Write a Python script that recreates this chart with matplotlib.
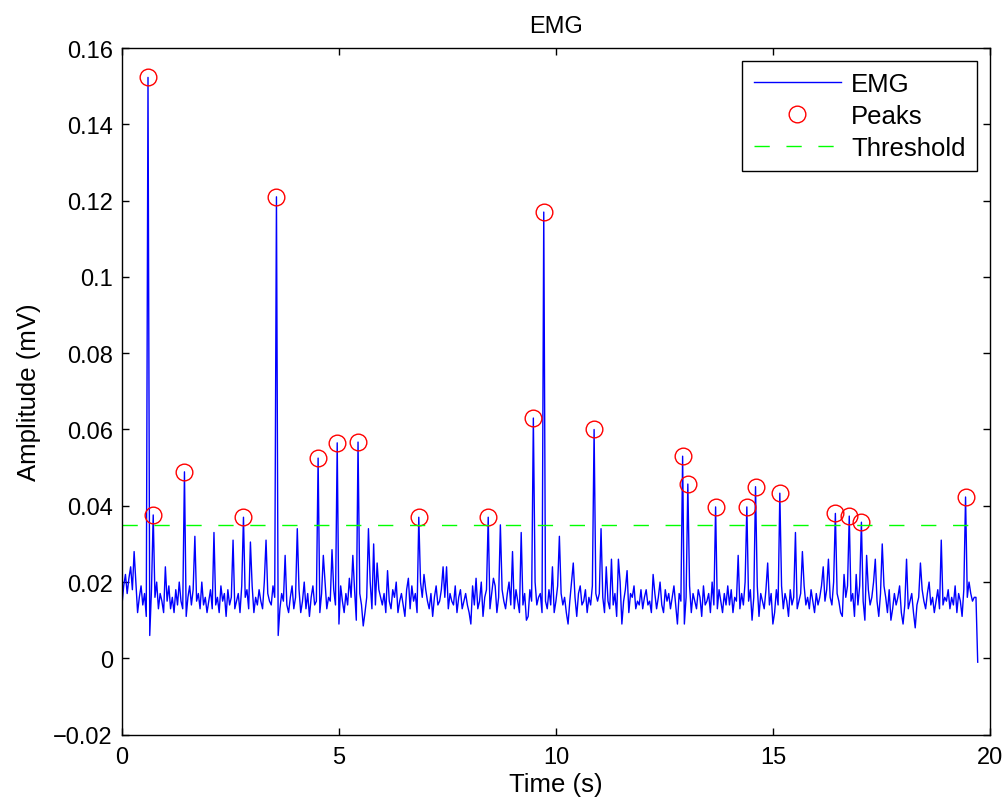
import matplotlib.pyplot as plt
import numpy as np
from matplotlib.ticker import FixedLocator, FixedFormatter

# ----- Matplotlib settings -----
plt.rcParams["font.family"] = ["Liberation Sans", "DejaVu Sans"]
plt.rcParams["font.size"] = 17

# ----- Data (amplitudes in 1e-3 mV) -----
DT = 0.04  # s

emg_base = [
    14, 19, 12, 17, 21, 13, 18, 15, 20, 12, 16, 19, 14, 17, 11, 15, 13, 18, 14, 16, 20, 13, 17, 15, 12,
    17, 15, 19, 13, 16, 12, 18, 14, 20, 15, 13, 17, 11, 16, 19, 14, 18, 12, 15, 17, 13, 20, 14, 16, 12,
    15, 18, 13, 21, 14, 16, 12, 19, 15, 17, 11, 18, 14, 16, 20, 13, 15, 17, 12, 19, 14, 16, 18, 13, 15,
    19, 12, 16, 14, 18, 15, 13, 20, 11, 17, 15, 14, 19, 16, 12, 18, 13, 17, 15, 21, 14, 12, 16, 19, 13,
    16, 14, 18, 12, 15, 20, 13, 17, 11, 16, 19, 14, 15, 18, 12, 17, 14, 20, 13, 16, 15, 11, 18, 14, 17,
    13, 19, 15, 12, 17, 14, 21, 16, 13, 18, 10, 15, 17, 14, 19, 12, 16, 15, 20, 13, 17, 14, 11, 18, 16,
    14, 17, 12, 19, 15, 13, 18, 16, 20, 12, 15, 17, 14, 11, 18, 16, 13, 19, 15, 17, 12, 14, 20, 16, 13,
    18, 15, 13, 17, 11, 16, 19, 14, 15, 18, 12, 16, 20, 13, 17, 15, 14, 19, 12, 16, 18, 13, 15, 17, 14,
    12, 16, 19, 14, 17, 13, 15, 20, 11, 16, 18, 14, 13, 17, 15, 19, 12, 16, 14, 18, 15, 13, 17, 20, 14,
    16, 13, 18, 15, 12, 19, 14, 17, 16, 11, 18, 15, 13, 20, 14, 16, 17, 12, 19, 15, 13, 18, 14, 16, 12,
    15, 19, 13, 17, 14, 16, 12, 18, 15, 20, 13, 16, 11, 17, 19, 14, 15, 18, 12, 16, 14, 19, 13, 17, 15,
    17, 14, 16, 12, 19, 15, 13, 18, 14, 17, 11, 16, 20, 13, 15, 18, 14, 12, 17, 16, 19, 13, 15, 14, 18,
    13, 16, 18, 14, 15, 12, 19, 17, 13, 16, 20, 14, 12, 18, 15, 17, 13, 16, 19, 14, 12, 17, 15, 18, 13,
    16, 14, 19, 12, 17, 15, 13, 18, 16, 11, 19, 14, 15, 17, 12, 20, 14, 16, 13, 18, 15, 12, 17, 14, 19,
    14, 18, 12, 16, 15, 19, 13, 17, 14, 20, 12, 15, 18, 13, 16, 14, 19, 11, 17, 15, 13, 18, 16, 14, 17,
    15, 12, 18, 14, 16, 19, 13, 17, 15, 11, 18, 14, 16, 20, 13, 15, 17, 12, 19, 14, 16, 13, 18, 15, 12,
    17, 14, 16, 19, 13, 15, 18, 12, 16, 14, 20, 13, 17, 15, 12, 18, 14, 16, 19, 13, 15, 17, 11, 16, 14,
    19, 13, 15, 17, 12, 18, 14, 16, 20, 13, 15, 11, 17, 14, 19, 16, 12, 18, 15, 13, 17, 14, 16, 19, 12,
    16, 14, 18, 13, 15, 17, 12, 19, 14, 16, 11, 18, 15, 13, 17, 20, 14, 16, 12, 15, 18, 13, 17, 14, 16,
    15, 18, 13, 16, 14, 19, 12, 17, 15, 13, 18, 14, 16, 20, 17, 15, 16, 16, 0,
]

# unmarked spikes and dips
spike_t = [0.08, 0.20, 0.28, 0.64, 1.00, 1.68, 2.12, 2.56, 2.96, 3.32, 3.60, 3.76, 4.04,
           4.64, 4.84, 5.00, 5.32, 5.56, 5.68, 5.80, 5.88, 6.12, 6.60, 6.96, 7.40, 7.48,
           8.04, 8.16, 8.56, 8.72, 9.00, 9.20, 9.32, 9.92, 10.08, 10.28, 10.40, 11.04,
           11.16, 11.28, 11.44, 11.52, 11.64, 12.24, 12.80, 12.96, 14.20, 14.52, 14.88,
           15.00, 15.52, 15.68, 16.16, 16.28, 16.60, 16.64, 16.92, 17.12, 17.16, 17.36,
           17.52, 17.72, 18.00, 18.08, 18.28, 18.40, 18.88, 19.36, 19.72]
spike_v = [22, 24, 28, 6, 24, 32, 33, 31, 30.5, 31, 6, 27, 34,
           27, 28.5, 9, 27, 8.5, 34, 30, 25, 23, 21, 22, 24, 24,
           9, 21, 21, 35, 28, 33, 10, 24, 32, 9, 25, 34,
           24, 26, 26, 9, 23, 22, 9, 9, 27, 10, 25,
           9, 33, 28, 24, 26, 11, 22, 22, 10, 27, 26,
           30, 10, 9, 26, 8, 25, 31, 11, -1]

# detected peaks
peak_t = [0.60, 0.72, 1.44, 2.80, 3.56, 4.52, 4.96, 5.44, 6.84, 8.44, 9.48, 9.72,
          10.88, 12.92, 13.04, 13.68, 14.40, 14.60, 15.16, 16.44, 16.76, 17.04, 19.44]
peak_v = [152.3, 37.6, 48.9, 37.0, 121.0, 52.5, 56.5, 56.7, 37.0, 37.0, 63.0, 117.0,
          60.0, 53.0, 45.7, 39.7, 39.7, 45.0, 43.3, 38.0, 37.3, 35.7, 42.3]

threshold = 0.035  # mV


# ----- Main -----
def main():
    emg = np.array(emg_base, dtype=float)
    for t, v in list(zip(spike_t, spike_v)) + list(zip(peak_t, peak_v)):
        idx = int(round(t / DT))
        if idx < len(emg):
            emg[idx] = v
    emg = emg * 1e-3
    time = np.arange(len(emg)) * DT

    fig = plt.figure(figsize=(10.08, 8.04), dpi=100)
    ax = fig.add_axes([0.121, 0.085, 0.861, 0.854])

    ax.plot(time, emg, color="#0000ff", linewidth=1.0, label="EMG")
    ax.plot(peak_t, np.array(peak_v) * 1e-3, linestyle="none", marker="o",
            markersize=12, markerfacecolor="none", markeredgecolor="#ff0000",
            markeredgewidth=1.0, label="Peaks")
    ax.plot([time[0], time[-1]], [threshold, threshold], color="#00ff00",
            linewidth=1.0, dashes=(11, 12), label="Threshold")

    ax.set_xlim(0, 20)
    ax.set_ylim(-0.02, 0.16)
    ax.xaxis.set_major_locator(FixedLocator([0, 5, 10, 15, 20]))
    yt = [-0.02, 0, 0.02, 0.04, 0.06, 0.08, 0.1, 0.12, 0.14, 0.16]
    ax.yaxis.set_major_locator(FixedLocator(yt))
    ax.yaxis.set_major_formatter(FixedFormatter(
        ["\u22120.02", "0", "0.02", "0.04", "0.06", "0.08", "0.1", "0.12", "0.14", "0.16"]))
    ax.tick_params(direction="in", top=True, right=True, length=5.3, width=1,
                   labelsize=17)
    ax.tick_params(axis="y", pad=6.5)
    ax.tick_params(axis="x", pad=8)
    for s in ax.spines.values():
        s.set_linewidth(1)

    ax.set_xlabel("Time (s)", fontsize=18.5, labelpad=3)
    ax.set_ylabel("Amplitude (mV)", fontsize=18.5, labelpad=9)
    ax.set_title("EMG", fontsize=17, pad=11.5)

    leg = ax.legend(loc="upper right", fontsize=18.5, fancybox=False,
                    edgecolor="black", framealpha=1, borderaxespad=0.49,
                    handlelength=3.4, handletextpad=0.4, labelspacing=0.3,
                    borderpad=0.45)
    leg.get_frame().set_linewidth(1)

    plt.savefig("out.png", dpi=100)


if __name__ == "__main__":
    main()
